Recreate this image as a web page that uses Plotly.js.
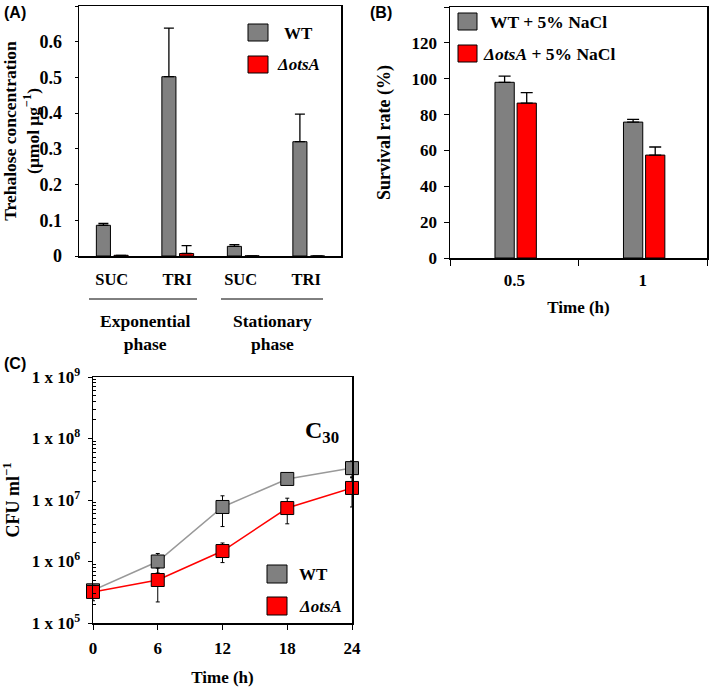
<!DOCTYPE html>
<html>
<head>
<meta charset="utf-8">
<script src="https://cdn.plot.ly/plotly-3.0.1.min.js"></script>
<style>
  html, body { margin: 0; padding: 0; background: #fff; }
  #chart { width: 709px; height: 687px; }
</style>
</head>
<body>
<div id="chart"></div>
<script>
// ---- data ----
const aCats = ["SUC", "TRI", "SUC ", "TRI "];
const aWT = [0.086, 0.502, 0.027, 0.320];
const aWTErr = [0.005, 0.136, 0.005, 0.077];
const aMut = [0.002, 0.007, 0.0005, 0.0];
const aMutErr = [0.0, 0.022, 0.0, 0.0];

const bCats = ["0.5", "1"];
const bWT = [98.0, 75.8];
const bWTErr = [3.5, 1.5];
const bMut = [86.4, 57.4];
const bMutErr = [5.8, 4.5];

const cTime = [0, 6, 12, 18, 24];
const cWT = [3.4e5, 1.0e6, 7.7e6, 2.2e7, 3.3e7];
const cWTErr = [0.5e5, 0.35e6, 4.0e6, 3.0e6, 1.0e7];
const cMut = [3.2e5, 5.0e5, 1.48e6, 7.4e6, 1.57e7];
const cMutErr = [0.9e5, 2.8e5, 0.52e6, 3.3e6, 8.0e6];
const cTickVals = [1e5, 1e6, 1e7, 1e8, 1e9];
const cTickText = ["1 x 10<sup>5</sup>", "1 x 10<sup>6</sup>", "1 x 10<sup>7</sup>", "1 x 10<sup>8</sup>", "1 x 10<sup>9</sup>"];

// ---- helpers ----
const W = 709, H = 687;
const GREY = "#808080", RED = "#ff0000";
const serif = "Liberation Serif, Times New Roman, serif";
const fx = p => p / W, fy = p => 1 - p / H;
const bold = (size, color) => ({ family: serif, size, color: color || "#000", weight: "bold" });

// minor ticks for the log axis (2..9 within each decade)
const cMinor = [];
for (let d = 5; d < 9; d++) for (let k = 2; k <= 9; k++) cMinor.push(k * Math.pow(10, d));

const axisBase = {
    showline: true, linecolor: "#000", linewidth: 1.5, mirror: true,
    showgrid: false, zeroline: false, ticks: "outside", ticklen: 4, tickcolor: "#000",
    tickfont: bold(17), automargin: false, fixedrange: true
};

const errUp = (arr, w) => ({ type: "data", symmetric: false, array: arr, arrayminus: arr.map(() => 0), color: "#000", thickness: 1.3, width: w });

const traces = [
    // panel A
    { type: "bar", x: aCats, y: aWT, xaxis: "x", yaxis: "y", width: 0.215, offset: -0.235,
      marker: { color: GREY, line: { color: "#000", width: 1 } }, error_y: errUp(aWTErr, 5), showlegend: false },
    { type: "bar", x: aCats, y: aMut, xaxis: "x", yaxis: "y", width: 0.215, offset: 0.035,
      marker: { color: RED, line: { color: "#000", width: 1 } }, error_y: errUp(aMutErr, 5), showlegend: false },
    // panel B
    { type: "bar", x: bCats, y: bWT, xaxis: "x2", yaxis: "y2", width: 0.15, offset: -0.15,
      marker: { color: GREY, line: { color: "#000", width: 1 } }, error_y: errUp(bWTErr, 6), showlegend: false },
    { type: "bar", x: bCats, y: bMut, xaxis: "x2", yaxis: "y2", width: 0.15, offset: 0.022,
      marker: { color: RED, line: { color: "#000", width: 1 } }, error_y: errUp(bMutErr, 6), showlegend: false },
    // panel C
    { type: "scatter", mode: "lines+markers", x: cTime, y: cWT, xaxis: "x3", yaxis: "y3", cliponaxis: false,
      line: { color: "#999999", width: 1.5 },
      marker: { symbol: "square", size: 13, color: GREY, line: { color: "#000", width: 1 } },
      error_y: { type: "data", array: cWTErr, color: "#000", thickness: 1, width: 2 }, showlegend: false },
    { type: "scatter", mode: "lines+markers", x: cTime, y: cMut, xaxis: "x3", yaxis: "y3", cliponaxis: false,
      line: { color: RED, width: 1.5 },
      marker: { symbol: "square", size: 13, color: RED, line: { color: "#000", width: 1 } },
      error_y: { type: "data", array: cMutErr, color: "#000", thickness: 1, width: 2 }, showlegend: false }
];

const layout = {
    width: W, height: H, margin: { l: 0, r: 0, t: 0, b: 0 },
    paper_bgcolor: "#fff", plot_bgcolor: "#fff", barmode: "overlay", showlegend: false,
    font: bold(17),
    xaxis: { ...axisBase, type: "category", domain: [fx(79), fx(341)], anchor: "y", range: [-0.5, 3.5], ticks: "",
             tickfont: bold(16.5), ticklabelstandoff: 8 },
    yaxis: { ...axisBase, domain: [fy(256), fy(6)], anchor: "x", range: [0, 0.7], dtick: 0.1, ticklen: 3,
             tickfont: bold(18), ticklabelstandoff: 9,
             title: { text: "Trehalose concentration<br>(μmol μg<sup>−1</sup>)", font: bold(17.5), standoff: 11 } },
    xaxis2: { ...axisBase, type: "category", domain: [fx(450), fx(707)], anchor: "y2", range: [-0.5, 1.5],
              tickson: "boundaries", ticklen: 6, ticklabelstandoff: 6,
              title: { text: "Time (h)", font: bold(17), standoff: 12 } },
    yaxis2: { ...axisBase, domain: [fy(258), fy(7)], anchor: "x2", range: [0, 140], dtick: 20, ticklen: 5,
              ticklabelstandoff: 3,
              title: { text: "Survival rate (%)", font: bold(18), standoff: 16 } },
    xaxis3: { ...axisBase, domain: [fx(93), fx(352)], anchor: "y3", range: [0, 24], tickvals: cTime, ticklen: 5,
              ticklabelstandoff: 4,
              title: { text: "Time (h)", font: bold(17), standoff: 16 } },
    yaxis3: { ...axisBase, type: "log", domain: [fy(623), fy(377)], anchor: "x3", range: [5, 9],
              tickvals: cTickVals, ticktext: cTickText, ticklen: 4, ticklabelstandoff: 4,
              minor: { tickmode: "array", tickvals: cMinor, ticks: "inside", ticklen: 3, tickcolor: "#000", tickwidth: 1, showgrid: false },
              title: { text: "CFU ml<sup>−1</sup>", font: bold(18), standoff: 8 } },
    shapes: [
        // phase underlines (panel A)
        { type: "line", xref: "paper", yref: "paper", x0: fx(89), x1: fx(197), y0: fy(299), y1: fy(299), line: { color: "#000", width: 1 } },
        { type: "line", xref: "paper", yref: "paper", x0: fx(221), x1: fx(323), y0: fy(299), y1: fy(299), line: { color: "#000", width: 1 } },
        // legend swatches
        { type: "rect", xref: "paper", yref: "paper", x0: fx(248), x1: fx(268), y0: fy(41), y1: fy(24), fillcolor: GREY, line: { color: "#000", width: 1 } },
        { type: "rect", xref: "paper", yref: "paper", x0: fx(248), x1: fx(268), y0: fy(73), y1: fy(56), fillcolor: RED, line: { color: "#000", width: 1 } },
        { type: "rect", xref: "paper", yref: "paper", x0: fx(458), x1: fx(477), y0: fy(30), y1: fy(13), fillcolor: GREY, line: { color: "#000", width: 1 } },
        { type: "rect", xref: "paper", yref: "paper", x0: fx(458), x1: fx(477), y0: fy(62), y1: fy(45), fillcolor: RED, line: { color: "#000", width: 1 } },
        { type: "rect", xref: "paper", yref: "paper", x0: fx(267), x1: fx(287), y0: fy(583), y1: fy(565), fillcolor: GREY, line: { color: "#000", width: 1 } },
        { type: "rect", xref: "paper", yref: "paper", x0: fx(267), x1: fx(287), y0: fy(615), y1: fy(597), fillcolor: RED, line: { color: "#000", width: 1 } }
    ],
    annotations: [
        { text: "(A)", x: fx(2), y: fy(13), xanchor: "left", font: { family: "Liberation Sans, Arial", size: 16, weight: "bold" } },
        { text: "(B)", x: fx(368), y: fy(13), xanchor: "left", font: { family: "Liberation Sans, Arial", size: 16, weight: "bold" } },
        { text: "(C)", x: fx(2), y: fy(363), xanchor: "left", font: { family: "Liberation Sans, Arial", size: 16, weight: "bold" } },
        { text: "Exponential<br>phase", x: fx(145), y: fy(332), xanchor: "center", font: bold(17.5) },
        { text: "Stationary<br>phase", x: fx(272), y: fy(332), xanchor: "center", font: bold(17.5) },
        { text: "WT", x: fx(282), y: fy(33), xanchor: "left", font: bold(17) },
        { text: "<i>ΔotsA</i>", x: fx(275), y: fy(65), xanchor: "left", font: bold(17) },
        { text: "WT + 5% NaCl", x: fx(488), y: fy(22), xanchor: "left", font: bold(17.5) },
        { text: "<i>ΔotsA</i> + 5% NaCl", x: fx(481), y: fy(54), xanchor: "left", font: bold(17.5) },
        { text: "WT", x: fx(297), y: fy(574), xanchor: "left", font: bold(17) },
        { text: "<i>ΔotsA</i>", x: fx(297), y: fy(606), xanchor: "left", font: bold(17) },
        { text: "C<sub>30</sub>", x: fx(322), y: fy(432), xanchor: "center", font: bold(24) }
    ].map(a => ({ xref: "paper", yref: "paper", showarrow: false, yanchor: "middle", ...a }))
};

Plotly.newPlot("chart", traces, layout, { displayModeBar: false, staticPlot: true });
</script>
</body>
</html>
